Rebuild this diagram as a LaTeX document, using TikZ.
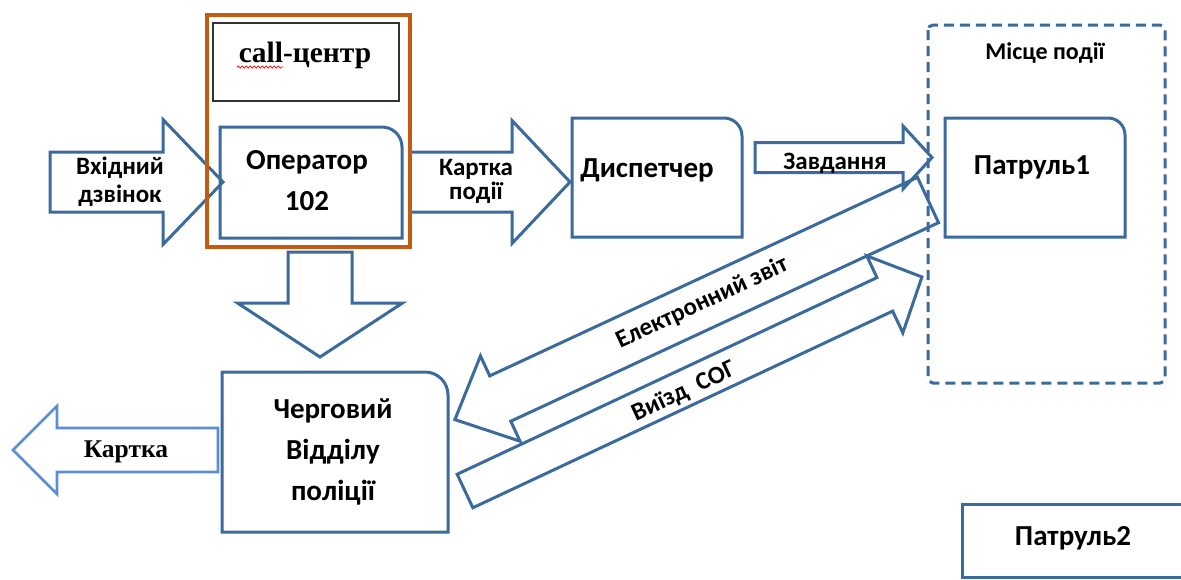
\documentclass[tikz,border=0pt]{standalone}
\usepackage{fontspec}
\setmainfont{Carlito}
\newfontfamily\serifb{Liberation Serif}
\usetikzlibrary{decorations.pathmorphing}
\definecolor{myblue}{HTML}{3B6A9C}
\definecolor{lightblue}{HTML}{5B8FCF}
\definecolor{myorange}{HTML}{C55A11}
\definecolor{boxgray}{HTML}{333333}
\tikzset{
  barrowline/.style={draw=myblue, line width=3pt, line join=miter},
  boxline/.style={draw=myblue, line width=3pt},
  lbl/.style={font=\bfseries\fontsize{25}{26}\selectfont, align=center, inner sep=0pt},
  ttl/.style={font=\bfseries\fontsize{29}{41}\selectfont, align=center, inner sep=0pt},
}
% #1 style, #2 tail centre, #3 angle, #4 length, #5 body half width, #6 head half width, #7 head length
\newcommand\blockarrow[7]{%
  \begin{scope}[shift={#2},rotate=#3]
    \draw[#1] (0,-#5) -- ({#4-#7},-#5) -- ({#4-#7},-#6) -- (#4,0) -- ({#4-#7},#6) -- ({#4-#7},#5) -- (0,#5) -- cycle;
  \end{scope}}
% box with rounded top-right corner: x1 y1 x2 y2 r
\newcommand\trbox[5]{%
  \draw[boxline] (#1,#4) -- (#1,#2) -- ({#3-#5},#2) arc[start angle=90,end angle=0,radius=#5pt] -- (#3,#4) -- cycle;}
\begin{document}
\begin{tikzpicture}[x=1pt,y=-1pt]
\useasboundingbox (0,0) rectangle (1181,579);
\clip (0,0) rectangle (1181,579);

% block arrows
\blockarrow{barrowline}{(50,182)}{0}{173}{30}{62.5}{60}
\blockarrow{barrowline}{(410,182)}{0}{160}{30}{61.5}{58}
\blockarrow{barrowline}{(755,157.5)}{0}{177}{15}{31.5}{29}
\blockarrow{barrowline}{(320,252)}{-90}{105}{32}{82.5}{54}
\blockarrow{barrowline, draw=lightblue, line width=2.6pt}{(218,450)}{180}{205}{22}{44}{44}
\blockarrow{barrowline}{(928,200)}{204.9}{521.6}{25}{47}{50}
\blockarrow{barrowline}{(465,491)}{25.1}{504.6}{18.5}{42.5}{41}

% boxes
\trbox{220}{127}{402}{238}{20}
\trbox{572}{118}{742}{237}{18}
\trbox{945}{118}{1125}{237}{17}
\trbox{222}{372}{448}{532}{23}
\draw[boxline] (962,504) rectangle (1200,577);
\draw[draw=myblue, line width=3pt, dash pattern=on 10pt off 6pt, rounded corners=5pt] (928,25) rectangle (1165,383);

% call-centre
\draw[draw=boxgray, line width=1.6pt] (213,23) rectangle (399,101);
\draw[draw=myorange, line width=4.5pt] (207,15) rectangle (410,247);

% texts
\node[font=\serifb\bfseries\fontsize{29.5}{30}\selectfont, inner sep=0pt] (cc) at (305,55) {call-центр};
\draw[red, line width=0.7pt, decorate, decoration={snake, amplitude=1.2pt, segment length=4pt}] (237,67) -- (283,67);
\node[ttl] (op) at (307,181) {Оператор\\102};
\node[ttl] (disp) at (647,170) {Диспетчер};
\node[ttl] (p1) at (1032,167) {Патруль1};
\node[ttl] (p2) at (1073,538) {Патруль2};
\node[ttl] (cherg) at (333,452) {Черговий\\Відділу\\поліції};
\node[lbl, font=\bfseries\fontsize{24}{26}\selectfont] (misce) at (1045,53) {Місце події};
\node[lbl, font=\bfseries\fontsize{25}{28}\selectfont] (vh) at (120,182) {Вхідний\\дзвінок};
\node[lbl, font=\bfseries\fontsize{25}{24}\selectfont] (kp) at (476,181) {Картка\\події};
\node[lbl] (zavd) at (835,163) {Завдання};
\node[lbl, rotate=25] (ez) at (702,303) {Електронний звіт};
\node[lbl, rotate=25] (vs) at (684,392) {Виїзд\ \ СОГ};
\node[font=\serifb\bfseries\fontsize{25.5}{26}\selectfont, inner sep=0pt] (kart) at (126,452) {Картка};
\end{tikzpicture}
\end{document}
